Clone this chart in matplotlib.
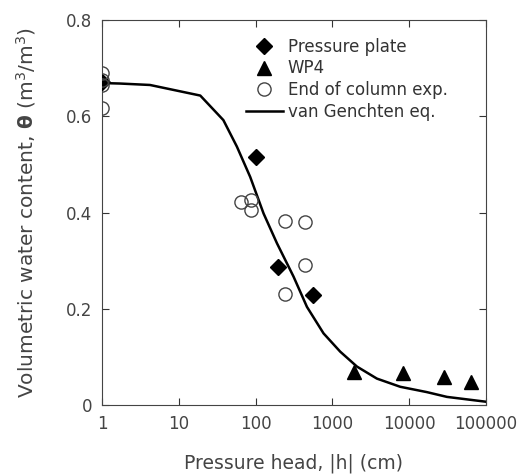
import numpy as np
import matplotlib.pyplot as plt

plt.rcParams['font.family'] = ['DejaVu Sans']
plt.rcParams['mathtext.fontset'] = 'dejavusans'

# Pressure plate (diamonds)
pp_h = [1, 100, 195, 560]
pp_theta = [0.672, 0.516, 0.287, 0.229]

# WP4 (triangles)
wp4_h = [1940, 8300, 28500, 65000]
wp4_theta = [0.069, 0.066, 0.059, 0.048]

# End of column experiment (open circles)
col_h = [1, 1, 1, 1, 65, 88, 88, 240, 442, 442, 240]
col_theta = [0.69, 0.676, 0.665, 0.617, 0.421, 0.426, 0.405, 0.383, 0.381, 0.292, 0.231]

# van Genuchten curve
vg_h = [1, 1.7, 4.2, 19, 38, 57, 85, 127, 190, 312, 467, 768, 1267,
        2094, 3811, 7680, 17000, 31200, 100000]
vg_theta = [0.669, 0.668, 0.665, 0.643, 0.592, 0.537, 0.474, 0.398, 0.336, 0.267,
            0.204, 0.149, 0.111, 0.080, 0.055, 0.038, 0.027, 0.017, 0.007]

fig = plt.figure(figsize=(5.24, 4.76), dpi=100)
ax = fig.add_axes([0.195, 0.149, 0.732, 0.809])

ax.plot(pp_h, pp_theta, 'D', color='black', markersize=8, label='Pressure plate', zorder=3)
ax.plot(wp4_h, wp4_theta, '^', color='black', markersize=10, label='WP4', zorder=3)
ax.plot(col_h, col_theta, 'o', markerfacecolor='none', markeredgecolor='#444444',
        markeredgewidth=1.0, markersize=9.5, label='End of column exp.', zorder=4)
ax.plot(vg_h, vg_theta, '-', color='black', linewidth=1.8, label='van Genchten eq.', zorder=2)

ax.set_xscale('log')
ax.set_xlim(1, 100000)
ax.set_ylim(0, 0.8)
ax.set_xticks([1, 10, 100, 1000, 10000, 100000])
ax.set_xticklabels(['1', '10', '100', '1000', '10000', '100000'])
ax.set_yticks([0, 0.2, 0.4, 0.6, 0.8])
ax.set_yticklabels(['0', '0.2', '0.4', '0.6', '0.8'])
ax.minorticks_off()
ax.tick_params(direction='in', top=True, right=True, length=5, labelsize=12, pad=7, colors='#333333')
ax.tick_params(axis='both', which='both', labelcolor='#444444')
for s in ax.spines.values():
    s.set_color('#444444')

ax.set_xlabel('Pressure head, |h| (cm)', fontsize=13.5, color='#444444')
ax.set_ylabel('Volumetric water content, $\\mathbf{\\theta}$ (m$^3$/m$^3$)', fontsize=14.5,
              color='#444444')
ax.xaxis.set_label_coords(0.5, -0.125)
ax.yaxis.set_label_coords(-0.168, 0.5)

ax.legend(loc='upper left', bbox_to_anchor=(0.375, 0.954), frameon=False, fontsize=12,
          handlelength=2.2, handletextpad=0.3, labelspacing=0.22, borderpad=0,
          borderaxespad=0, labelcolor='#333333')

fig.savefig('out.png', dpi=100)
